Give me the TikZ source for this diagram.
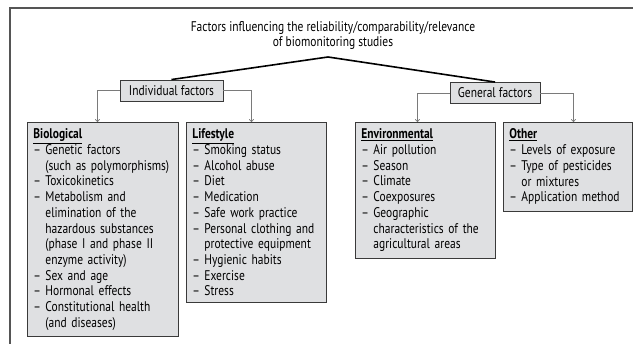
\documentclass[tikz,border=0pt]{standalone}
\usepackage{fontspec}
\setmainfont{PT Sans}[FakeStretch=0.82]
\usetikzlibrary{arrows.meta}
\definecolor{boxgray}{HTML}{DFE0E2}
\definecolor{edgegray}{HTML}{3A3A3A}
\definecolor{linegray}{HTML}{7A7A7A}
\newcommand{\dsh}{\makebox[12pt][l]{–}}
\newcommand{\ind}{\hspace*{12pt}}
\begin{document}
\begin{tikzpicture}[x=1pt,y=-1pt,
  every node/.style={font=\fontsize{14}{15.7}\selectfont},
  head/.style={draw=edgegray,fill=boxgray,line width=0.9pt,inner xsep=5pt,minimum height=21pt},
  list/.style={draw=edgegray,fill=boxgray,line width=0.9pt,anchor=north west,align=left,inner xsep=6pt,inner ysep=6.5pt},
  conn/.style={draw=linegray,line width=0.7pt,-{To[length=3pt,width=5pt]}},
  trunk/.style={draw,line width=1.6pt}]
\useasboundingbox (0,0) rectangle (633,344);
\draw[linegray!70!black,line width=1.2pt] (633,8) -- (10,8) -- (10,344);

\node[align=center] (title) at (333,35.5) {Factors influencing the reliability/comparability/relevance\\of biomonitoring studies};
\coordinate (apex) at (328,57);

\node[head,minimum width=103pt] (ind) at (171.5,90.5) {Individual factors};
\node[head,minimum width=90pt] (gen) at (495,93) {General factors};

\path[trunk] (apex) -- (ind.north);
\path[trunk] (apex) -- (gen.north);

\node[list,text width=139pt] (bio) at (27,122) {\underline{\textbf{Biological}}\\
\dsh Genetic factors\\
\ind(such as polymorphisms)\\
\dsh Toxicokinetics\\
\dsh Metabolism and\\
\ind elimination of the\\
\ind hazardous substances\\
\ind(phase I and phase II\\
\ind enzyme activity)\\
\dsh Sex and age\\
\dsh Hormonal effects\\
\dsh Constitutional health\\
\ind(and diseases)};
\node[list,text width=128pt] (life) at (186,122) {\underline{\textbf{Lifestyle}}\\
\dsh Smoking status\\
\dsh Alcohol abuse\\
\dsh Diet\\
\dsh Medication\\
\dsh Safe work practice\\
\dsh Personal clothing and\\
\ind protective equipment\\
\dsh Hygienic habits\\
\dsh Exercise\\
\dsh Stress};
\node[list,text width=128pt] (env) at (355,122) {\underline{\textbf{Environmental}}\\
\dsh Air pollution\\
\dsh Season\\
\dsh Climate\\
\dsh Coexposures\\
\dsh Geographic\\
\ind characteristics of the\\
\ind agricultural areas};
\node[list,text width=117pt] (oth) at (503,122) {\underline{\textbf{Other}}\\
\dsh Levels of exposure\\
\dsh Type of pesticides\\
\ind or mixtures\\
\dsh Application method};

\draw[conn] (ind.west) -| ([xshift=-5.5pt]bio.north);
\draw[conn] (ind.east) -| ([xshift=-5pt]life.north);
\draw[conn] (gen.west) -| ([xshift=-8pt]env.north);
\draw[conn] (gen.east) -| ([xshift=5.5pt]oth.north);
\end{tikzpicture}
\end{document}
